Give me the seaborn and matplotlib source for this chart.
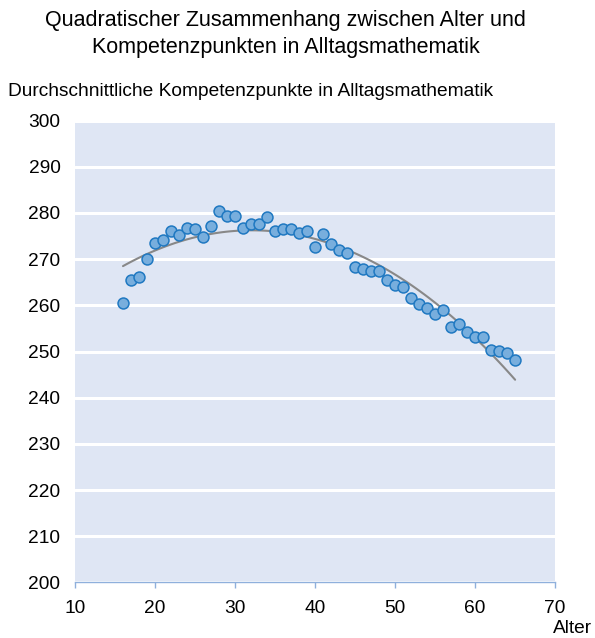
import numpy as np
import pandas as pd
import matplotlib
matplotlib.use("Agg")
import matplotlib.pyplot as plt
import seaborn as sns

alter = list(range(16, 66))
punkte = [
    260.5, 265.4, 266.1, 270.0, 273.6, 274.2, 276.0, 275.2, 276.7, 276.5,
    274.8, 277.2, 280.4, 279.4, 279.4, 276.7, 277.6, 277.7, 279.1, 276.0,
    276.5, 276.5, 275.6, 276.2, 272.6, 275.4, 273.2, 272.0, 271.4, 268.4,
    267.9, 267.4, 267.5, 265.4, 264.4, 264.0, 261.5, 260.2, 259.5, 258.1,
    259.1, 255.4, 256.0, 254.2, 253.2, 253.2, 250.3, 250.2, 249.6, 248.2,
]
x_ticks = [10, 20, 30, 40, 50, 60, 70]
y_ticks = [200, 210, 220, 230, 240, 250, 260, 270, 280, 290, 300]

df = pd.DataFrame({"alter": alter, "punkte": punkte})

sns.set_style("white")
plt.rcParams["font.family"] = ["Liberation Sans", "DejaVu Sans"]
plt.rcParams["text.color"] = "black"

fig = plt.figure(figsize=(5.95, 6.38), dpi=100)
ax = fig.add_axes([0.126, 0.087, 0.807, 0.724])
ax.set_facecolor("#dfe6f4")

# quadratische Regression
sns.regplot(data=df, x="alter", y="punkte", order=2, ci=None, scatter=False,
            line_kws={"color": "#888888", "linewidth": 1.5}, truncate=True, ax=ax)
sns.scatterplot(data=df, x="alter", y="punkte", s=62, color="#78aedd",
                edgecolor="#1f78c1", linewidth=1.1, ax=ax, zorder=3)

ax.set_xlim(10, 70)
ax.set_ylim(200, 300)
ax.set_xticks(x_ticks)
ax.set_yticks(y_ticks)
ax.tick_params(axis="both", labelsize=13.8, labelcolor="black")
ax.tick_params(axis="x", bottom=True, length=4.5, width=1, color="#8fb0dc", pad=8)
ax.tick_params(axis="y", left=False, length=0, pad=10.5)
ax.grid(axis="y", color="white", linewidth=2.2)
ax.set_axisbelow(True)
for side in ["left", "right", "top"]:
    ax.spines[side].set_visible(False)
ax.spines["bottom"].set_color("#8fb0dc")
ax.spines["bottom"].set_linewidth(1)
ax.set_xlabel("")
ax.set_ylabel("")

fig.text(0.48, 0.947, "Quadratischer Zusammenhang zwischen Alter und\nKompetenzpunkten in Alltagsmathematik",
         ha="center", va="center", fontsize=15.5, linespacing=1.39)
fig.text(0.0134, 0.856, "Durchschnittliche Kompetenzpunkte in Alltagsmathematik",
         ha="left", va="center", fontsize=13.75)
fig.text(0.995, 0.008, "Alter", ha="right", va="baseline", fontsize=13.75)

fig.savefig("out.png", dpi=100)
